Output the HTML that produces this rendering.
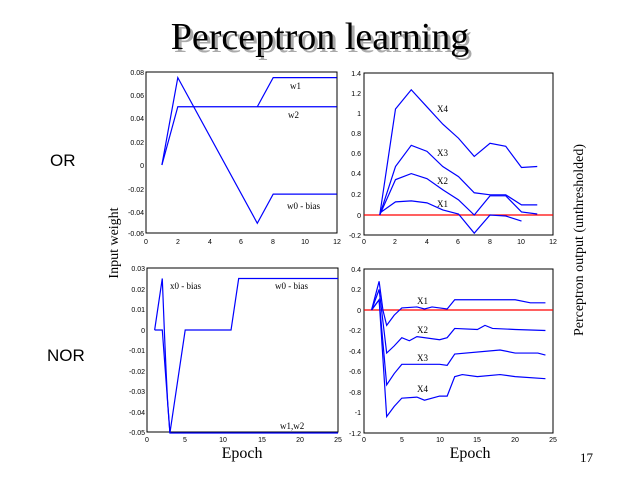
<!DOCTYPE html>
<html><head><meta charset="utf-8"><style>
body{margin:0;background:#fff;width:640px;height:480px;overflow:hidden}
svg{display:block}
.t{font-family:"Liberation Sans",sans-serif;font-size:7px;fill:#000}
.s{font-family:"Liberation Serif",serif;fill:#000}
.l{fill:none;stroke:#00f;stroke-width:1.2;vector-effect:non-scaling-stroke}
.r{fill:none;stroke:#f00;stroke-width:1.3;vector-effect:non-scaling-stroke}
.b{fill:none;stroke:#000;stroke-width:1}
</style></head><body>
<svg width="640" height="480" viewBox="0 0 640 480">
<text x="323" y="52" text-anchor="middle" class="s" font-size="38" fill="#999" style="fill:#aaa">Perceptron learning</text>
<text x="320" y="49" text-anchor="middle" class="s" font-size="38">Perceptron learning</text>
<text x="50" y="166" font-family="Liberation Sans,sans-serif" font-size="17">OR</text>
<text x="47" y="361" font-family="Liberation Sans,sans-serif" font-size="17">NOR</text>
<text transform="translate(118,243) rotate(-90)" text-anchor="middle" class="s" font-size="14">Input weight</text>
<text transform="translate(583,240) rotate(-90)" text-anchor="middle" class="s" font-size="14">Perceptron output (unthresholded)</text>
<text x="242" y="458" text-anchor="middle" class="s" font-size="16">Epoch</text>
<text x="470" y="458" text-anchor="middle" class="s" font-size="16">Epoch</text>
<text x="580" y="462" class="s" font-size="13">17</text>

<!-- Plot 1 -->
<rect x="146" y="72" width="191" height="161" class="b"/>
<g class="t" text-anchor="end">
<text x="144" y="75">0.08</text><text x="144" y="98">0.06</text><text x="144" y="121">0.04</text><text x="144" y="145">0.02</text><text x="144" y="168">0</text><text x="144" y="192">-0.02</text><text x="144" y="215">-0.04</text><text x="144" y="236">-0.06</text>
</g>
<g class="t" text-anchor="middle">
<text x="146" y="244">0</text><text x="178" y="244">2</text><text x="210" y="244">4</text><text x="241" y="244">6</text><text x="273" y="244">8</text><text x="305" y="244">10</text><text x="337" y="244">12</text>
</g>
<g transform="matrix(15.9 0 0 -1165 146 165)">
<polyline class="l" points="1,0 2,0.075 7,-0.05 8,-0.025 12,-0.025"/>
<polyline class="l" points="1,0 2,0.05 12,0.05"/>
<polyline class="l" points="7,0.05 8,0.075 12,0.075"/>
</g>
<g class="s" font-size="9"><text x="290" y="89">w1</text><text x="288" y="118">w2</text><text x="287" y="209">w0 - bias</text></g>

<!-- Plot 2 -->
<rect x="364" y="73" width="189" height="162" class="b"/>
<g class="t" text-anchor="end">
<text x="361" y="76">1.4</text><text x="361" y="96">1.2</text><text x="361" y="116">1</text><text x="361" y="136">0.8</text><text x="361" y="156">0.6</text><text x="361" y="176">0.4</text><text x="361" y="197">0.2</text><text x="361" y="218">0</text><text x="361" y="238">-0.2</text>
</g>
<g class="t" text-anchor="middle">
<text x="364" y="244">0</text><text x="395" y="244">2</text><text x="427" y="244">4</text><text x="458" y="244">6</text><text x="490" y="244">8</text><text x="521" y="244">10</text><text x="553" y="244">12</text>
</g>
<line x1="364" y1="215" x2="553" y2="215" class="r"/>
<g transform="matrix(15.75 0 0 -101 364 215)">
<polyline class="l" points="1,0 2,1.05 3,1.24 4,1.07 5,0.9 6,0.76 7,0.58 8,0.71 9,0.68 10,0.47 11,0.48"/>
<polyline class="l" points="1,0 2,0.48 3,0.69 4,0.63 5,0.48 6,0.38 7,0.22 8,0.2 9,0.2 10,0.1 11,0.1"/>
<polyline class="l" points="1,0 2,0.35 3,0.41 4,0.36 5,0.25 6,0.15 7,0 8,0.19 9,0.19 10,0.03 11,0.01"/>
<polyline class="l" points="1,0.02 2,0.13 3,0.14 4,0.12 5,0.05 6,0.01 7,-0.18 8,0 9,-0.01 10,-0.06"/>
</g>
<g class="s" font-size="9"><text x="437" y="112">X4</text><text x="437" y="156">X3</text><text x="437" y="184">X2</text><text x="437" y="207">X1</text></g>

<!-- Plot 3 -->
<rect x="147" y="268" width="191" height="164" class="b"/>
<g class="t" text-anchor="end">
<text x="145" y="271">0.03</text><text x="145" y="292">0.02</text><text x="145" y="312">0.01</text><text x="145" y="333">0</text><text x="145" y="353">-0.01</text><text x="145" y="374">-0.02</text><text x="145" y="394">-0.03</text><text x="145" y="415">-0.04</text><text x="145" y="435">-0.05</text>
</g>
<g class="t" text-anchor="middle">
<text x="147" y="442">0</text><text x="185" y="442">5</text><text x="223" y="442">10</text><text x="262" y="442">15</text><text x="300" y="442">20</text><text x="338" y="442">25</text>
</g>
<g transform="matrix(7.64 0 0 -2060 147 330)">
<polyline class="l" points="1,0 2,0.025 2.3,-0.003 2.5,-0.02 2.7,-0.035 3,-0.05 5,0 11,0 12,0.025 25,0.025"/>
<polyline class="l" points="1,0 2,0 2.5,-0.025 2.8,-0.04 3,-0.05 25,-0.05"/>
</g>
<g class="s" font-size="9"><text x="170" y="289">x0 - bias</text><text x="275" y="289">w0 - bias</text><text x="280" y="429">w1,w2</text></g>

<!-- Plot 4 -->
<rect x="364" y="269" width="189" height="164" class="b"/>
<g class="t" text-anchor="end">
<text x="361" y="272">0.4</text><text x="361" y="292">0.2</text><text x="361" y="313">0</text><text x="361" y="333">-0.2</text><text x="361" y="354">-0.4</text><text x="361" y="374">-0.6</text><text x="361" y="395">-0.8</text><text x="361" y="415">-1</text><text x="361" y="436">-1.2</text>
</g>
<g class="t" text-anchor="middle">
<text x="364" y="442">0</text><text x="402" y="442">5</text><text x="440" y="442">10</text><text x="477" y="442">15</text><text x="515" y="442">20</text><text x="553" y="442">25</text>
</g>
<line x1="364" y1="310" x2="553" y2="310" class="r"/>
<g transform="matrix(7.56 0 0 -102.5 364 310)">
<polyline class="l" points="1,0 2,0.28 2.5,0 3,-0.15 4,-0.05 5,0.02 7,0.03 8,0.01 9,0.03 10,0.02 11,0.01 12,0.1 20,0.1 22,0.07 24,0.07"/>
<polyline class="l" points="1,0 2,0.2 3,-0.42 4,-0.35 5,-0.27 6,-0.3 7,-0.26 10,-0.29 11,-0.27 12,-0.18 15,-0.19 16,-0.15 17,-0.18 20,-0.19 24,-0.2"/>
<polyline class="l" points="1,0 2,0.1 3,-0.73 4,-0.62 5,-0.53 10,-0.53 11,-0.54 12,-0.43 18,-0.39 20,-0.42 23,-0.42 24,-0.44"/>
<polyline class="l" points="1,0 2,0.1 3,-1.04 4,-0.94 5,-0.86 7,-0.85 8,-0.88 10,-0.84 11,-0.84 12,-0.65 13,-0.63 15,-0.65 18,-0.63 20,-0.65 24,-0.67"/>
</g>
<g class="s" font-size="9"><text x="417" y="304">X1</text><text x="417" y="333">X2</text><text x="417" y="361">X3</text><text x="417" y="392">X4</text></g>
</svg>
</body></html>
